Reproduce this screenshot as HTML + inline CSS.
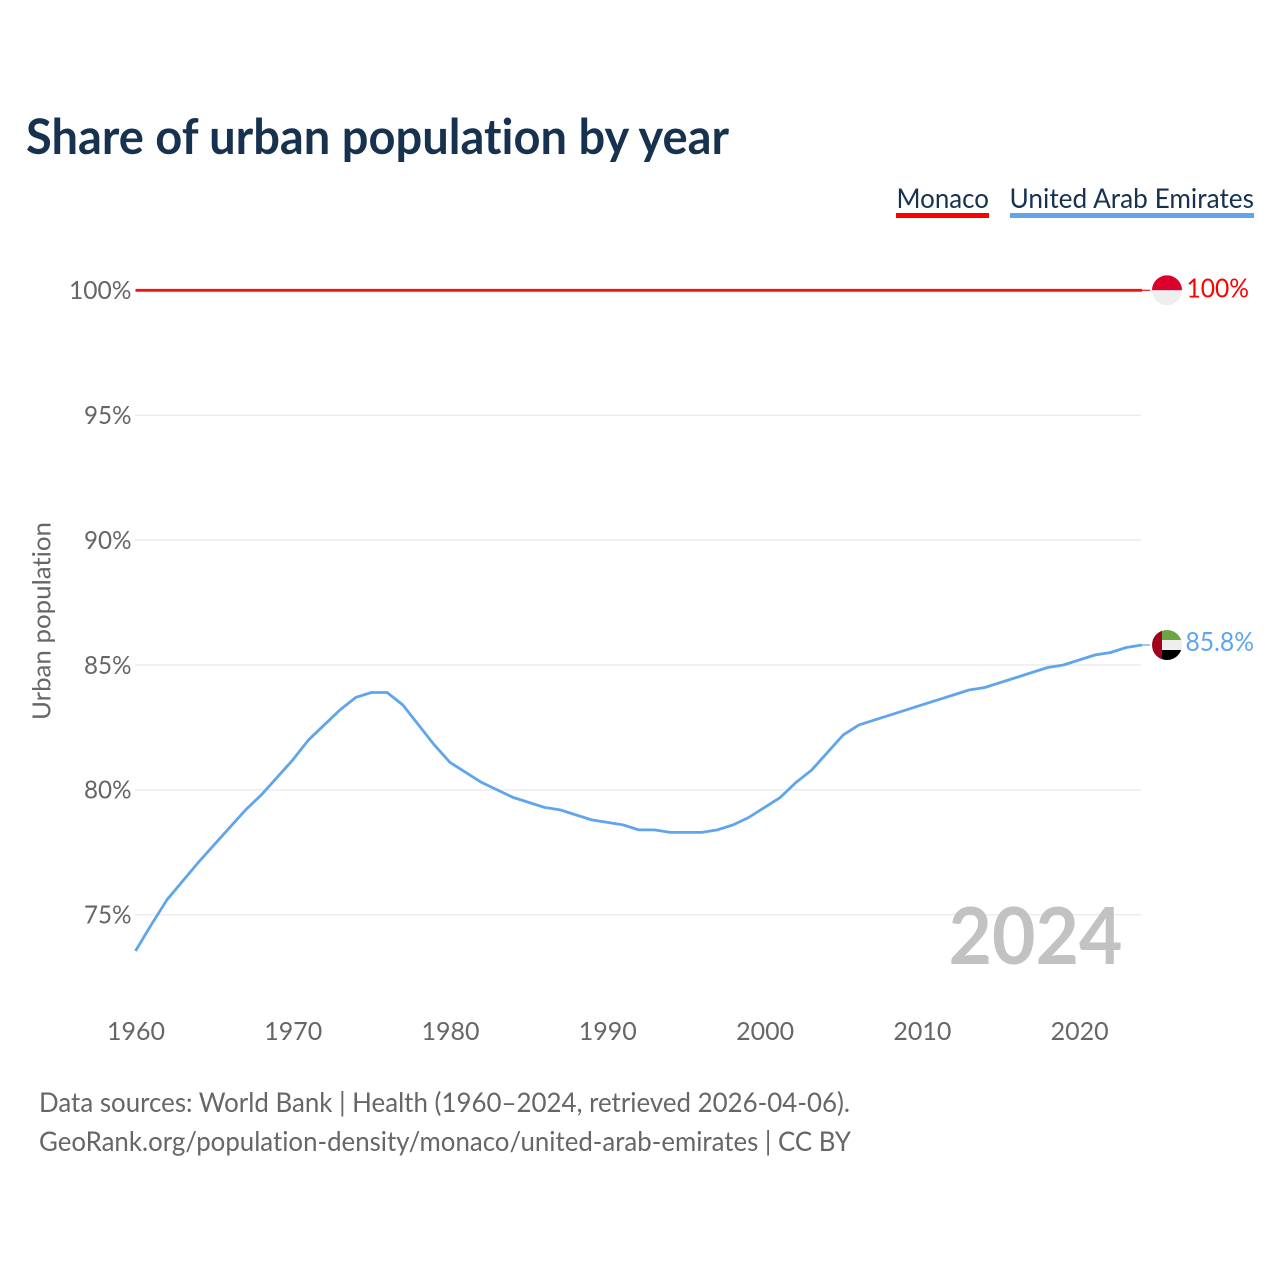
<!DOCTYPE html>
<html lang="en">
<head>
<meta charset="utf-8">
<title>Share of urban population by year</title>
<style>
html,body{margin:0;padding:0;background:#fff;}
svg{display:block;}
text{font-family:"Lato","Carlito","Liberation Sans",sans-serif;font-variant-ligatures:none;font-feature-settings:"liga" 0,"clig" 0;}
</style>
</head>
<body>
<svg id="chart" xmlns="http://www.w3.org/2000/svg" width="1280" height="1280" viewBox="0 0 1280 1280">
  <rect x="0" y="0" width="1280" height="1280" fill="#ffffff"/>
  <text x="26" y="154" font-size="49" font-weight="700" fill="#17324f" textLength="703" lengthAdjust="spacingAndGlyphs">Share of urban population by year</text>

  <g>
    <g>
      <text x="896.5" y="208" font-size="27.5" fill="#17324f" textLength="92.5" lengthAdjust="spacingAndGlyphs">Monaco</text>
      <rect x="896" y="213" width="93" height="5" fill="#ff0000"/>
    </g>
    <g>
      <text x="1009.5" y="208" font-size="27.5" fill="#17324f" textLength="244.5" lengthAdjust="spacingAndGlyphs">United Arab Emirates</text>
      <rect x="1010" y="213" width="244" height="5" fill="#60a5ec"/>
    </g>
  </g>

  <g id="grid"></g>
  <g id="yticks"></g>
  <g id="xticks"></g>

  <text transform="translate(50.5,720) rotate(-90)" x="0" y="0" font-size="25.5" fill="#666666" textLength="198" lengthAdjust="spacingAndGlyphs">Urban population</text>

  <text x="948.5" y="964" font-size="79" font-weight="700" fill="#bfbfbf" fill-opacity="0.95" textLength="174" lengthAdjust="spacingAndGlyphs">2024</text>

  <g id="series"></g>

  <defs>
    <clipPath id="clip-monaco"><circle cx="1167" id="clip-monaco-circle" r="15"/></clipPath>
    <clipPath id="clip-uae"><circle cx="1167" id="clip-uae-circle" r="15"/></clipPath>
  </defs>
  <g id="flag-monaco" clip-path="url(#clip-monaco)"></g>
  <g id="flag-uae" clip-path="url(#clip-uae)"></g>

  <text id="value-monaco" x="1186.5" font-size="26" fill="#ff0000" textLength="62.5" lengthAdjust="spacingAndGlyphs">100%</text>
  <text id="value-uae" x="1185.5" font-size="26" fill="#60a5ec" textLength="68.5" lengthAdjust="spacingAndGlyphs">85.8%</text>

  <text x="39" y="1112" font-size="27" fill="#666666" textLength="811" lengthAdjust="spacingAndGlyphs">Data sources: World Bank | Health (1960–2024, retrieved 2026-04-06).</text>
  <text x="39" y="1151" font-size="27" fill="#666666" textLength="812" lengthAdjust="spacingAndGlyphs">GeoRank.org/population-density/monaco/united-arab-emirates | CC BY</text>
</svg>
<script>
const startYear = 1960;
const monacoValues = [100,100,100,100,100,100,100,100,100,100,100,100,100,100,100,100,100,100,100,100,100,100,100,100,100,100,100,100,100,100,100,100,100,100,100,100,100,100,100,100,100,100,100,100,100,100,100,100,100,100,100,100,100,100,100,100,100,100,100,100,100,100,100,100,100];
const uaeValues = [73.55,74.6,75.6,76.35,77.1,77.8,78.5,79.2,79.8,80.5,81.2,82.0,82.6,83.2,83.7,83.9,83.9,83.4,82.6,81.8,81.1,80.7,80.3,80.0,79.7,79.5,79.3,79.2,79.0,78.8,78.7,78.6,78.4,78.4,78.3,78.3,78.3,78.4,78.6,78.9,79.3,79.7,80.3,80.8,81.5,82.2,82.6,82.8,83.0,83.2,83.4,83.6,83.8,84.0,84.1,84.3,84.5,84.7,84.9,85.0,85.2,85.4,85.5,85.7,85.8];
const yTicks = [75,80,85,90,95,100];
const yTickLabels = ["75%","80%","85%","90%","95%","100%"];
const yTickLabelWidths = [47.5,47.5,47.5,47.5,47.5,62.5];
const xTicks = [1960,1970,1980,1990,2000,2010,2020];
const xTickLabels = ["1960","1970","1980","1990","2000","2010","2020"];

const NS = "http://www.w3.org/2000/svg";
function xScale(year){ return 135.5 + (year - 1960) * 15.727; }
function yScale(v){ return 290.3 + (100 - v) * 24.98; }
function make(tag, attrs, parent){
  const el = document.createElementNS(NS, tag);
  for (const k in attrs) el.setAttribute(k, attrs[k]);
  parent.appendChild(el);
  return el;
}
const gridG = document.getElementById("grid");
const yG = document.getElementById("yticks");
const xG = document.getElementById("xticks");
const seriesG = document.getElementById("series");

yTicks.forEach(function(t, i){
  if (t !== 100) {
    const line = make("line", {x1:135, x2:1141, y1:yScale(t), y2:yScale(t), stroke:"#ececec", "stroke-width":1.5}, gridG);
    
    
  }
  const lab = make("text", {x:131.5 - yTickLabelWidths[i], y:yScale(t) + 8.8, "font-size":25.5, fill:"#666666", textLength:yTickLabelWidths[i], lengthAdjust:"spacingAndGlyphs"}, yG);
  
  
  lab.textContent = yTickLabels[i];
});

xTicks.forEach(function(t, i){
  const lab = make("text", {x:xScale(t) - 28.5, y:1040, "font-size":25.5, fill:"#666666", textLength:58, lengthAdjust:"spacingAndGlyphs"}, xG);
  
  
  lab.textContent = xTickLabels[i];
});

function pointsFor(values){
  return values.map(function(v, i){ return xScale(startYear + i).toFixed(2) + "," + yScale(v).toFixed(2); }).join(" ");
}
function drawSeries(values, color, name){
  const line = make("polyline", {points:pointsFor(values), fill:"none", stroke:color, "stroke-width":2.8, "stroke-linejoin":"round"}, seriesG);
  
  
  const last = values[values.length - 1];
  const lastX = xScale(startYear + values.length - 1);
  const leader = make("line", {x1:lastX - 2, x2:1150, y1:yScale(last), y2:yScale(last), stroke:color, "stroke-width":1.2}, seriesG);
  
  
}
drawSeries(monacoValues, "#f01414", "line-monaco");
drawSeries(uaeValues, "#60a5ec", "line-united-arab-emirates");

const monacoLast = monacoValues[monacoValues.length - 1];
const uaeLast = uaeValues[uaeValues.length - 1];
const my = yScale(monacoLast);
const uy = yScale(uaeLast);
document.getElementById("clip-monaco-circle").setAttribute("cy", my);
document.getElementById("clip-uae-circle").setAttribute("cy", uy);
document.getElementById("value-monaco").setAttribute("y", my + 7);
document.getElementById("value-uae").setAttribute("y", uy + 6);
document.getElementById("value-monaco").textContent = monacoLast + "%";
document.getElementById("value-uae").textContent = uaeLast.toFixed(1) + "%";

const fm = document.getElementById("flag-monaco");
const mRed = make("rect", {x:1152, y:my - 15, width:30, height:15, fill:"#dc002d"}, fm);


const mWhite = make("rect", {x:1152, y:my, width:30, height:15, fill:"#eeeeee"}, fm);



const fu = document.getElementById("flag-uae");
const uGreen = make("rect", {x:1152, y:uy - 15, width:30, height:10, fill:"#6da544"}, fu);


const uWhite = make("rect", {x:1152, y:uy - 5, width:30, height:10, fill:"#eeeeee"}, fu);


const uBlack = make("rect", {x:1152, y:uy + 5, width:30, height:10, fill:"#000000"}, fu);


const uRed = make("rect", {x:1152, y:uy - 15, width:10, height:30, fill:"#a2001d"}, fu);


</script>
</body>
</html>
